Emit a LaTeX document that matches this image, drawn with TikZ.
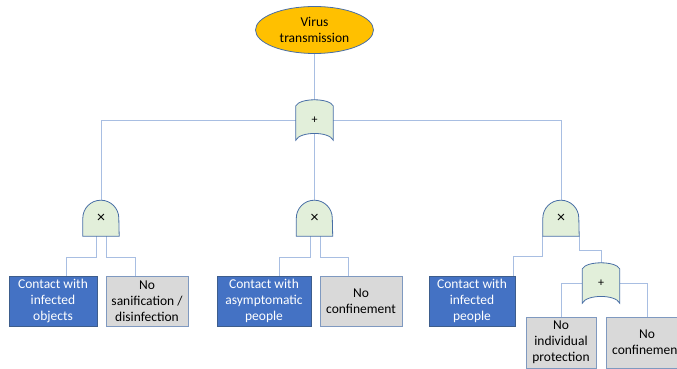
\documentclass[tikz,border=0pt]{standalone}
\usepackage{fontspec}
\setmainfont{Carlito}
\usetikzlibrary{shapes.geometric,backgrounds}

\definecolor{wireblue}{RGB}{168,190,226}
\definecolor{edgeblue}{RGB}{72,110,165}
\definecolor{gatefill}{RGB}{226,239,218}
\definecolor{eventorange}{RGB}{255,192,0}
\definecolor{causeblue}{RGB}{68,114,196}
\definecolor{causegrey}{RGB}{217,217,217}

\tikzset{
  wire/.style={draw=wireblue, line width=0.9pt},
  gateline/.style={draw=edgeblue, fill=gatefill, line width=0.8pt},
  gate/.style={inner sep=0pt, font=\fontsize{12}{12}\selectfont},
  andgate/.style={gate, minimum width=36pt, minimum height=36pt, font=\fontsize{16}{16}\selectfont},
  orgate/.style={gate, minimum width=37pt, minimum height=40pt},
  event/.style={ellipse, draw=edgeblue, fill=eventorange, line width=0.8pt,
    minimum width=118pt, minimum height=47pt, inner sep=0pt, align=center,
    font=\fontsize{13.5}{16}\selectfont},
  cause/.style={rectangle, line width=0.8pt, minimum height=50pt, inner sep=0pt,
    align=center, font=\fontsize{13.5}{16}\selectfont},
  bluecause/.style={cause, draw=edgeblue!85!black, fill=causeblue, text=white},
  greycause/.style={cause, draw=edgeblue!70, fill=causegrey, text=black},
}

\begin{document}
\begin{tikzpicture}[x=1pt, y=1pt]
  \useasboundingbox (0,0) rectangle (677,369);
  \clip (0,0) rectangle (677,369);

  % top event
  \node[event] (top) at (314.5,339) {Virus\\transmission};

  % gates
  \node[orgate] (or0) at (314.5,249) {+};
  \node[andgate] (and1) at (101,151) {×};
  \node[andgate] (and2) at (314.5,151) {×};
  \node[andgate] (and3) at (561,151) {×};
  \node[orgate] (or1) at (601,86) {+};

  % basic causes
  \node[bluecause, minimum width=88pt] (b1) at (53,68) {Contact with\\infected\\objects};
  \node[greycause, minimum width=82pt] (b2) at (147,68) {No\\sanification /\\disinfection};
  \node[bluecause, minimum width=94pt] (b3) at (264,68) {Contact with\\asymptomatic\\people};
  \node[greycause, minimum width=82pt] (b4) at (361,68) {No\\confinement};
  \node[bluecause, minimum width=86pt] (b5) at (472,68) {Contact with\\infected\\people};
  \node[greycause, minimum width=70pt, minimum height=51pt] (b6) at (561,26.5) {No\\individual\\protection};
  \node[greycause, minimum width=82pt, minimum height=51pt] (b7) at (647,26.5) {No\\confinement};

  \begin{scope}[on background layer]
    % connectors
    \draw[wire] (top.south) -- (and2.north);
    \draw[wire] (and1.north) |- (or0);
    \draw[wire] (and3.north) |- (or0);

    \draw[wire] ([xshift=-5pt]and1.south) -- ++(0,-21) -| ([xshift=13pt]b1.north);
    \draw[wire] ([xshift=5pt]and1.south) -- ++(0,-21) -| ([xshift=-12pt]b2.north);

    \draw[wire] ([xshift=-4.5pt]and2.south) -- ++(0,-21) -| ([xshift=15pt]b3.north);
    \draw[wire] ([xshift=5.5pt]and2.south) -- ++(0,-21) -| ([xshift=-13pt]b4.north);

    \draw[wire] (and3.south west) -- ++(0,-20) -| ([xshift=41pt]b5.north);
    \draw[wire] (and3.south east) -- ++(0,-14) -| (or1.north);

    \draw[wire] (or1) -| (b6.north);
    \draw[wire] (or1) -| (b7.north);

    % gate outlines
    \foreach \g in {and1,and2,and3}
      \draw[gateline] (\g.south west) -- ([yshift=18pt]\g.south west)
        arc[start angle=180, end angle=0, radius=18pt] -- (\g.south east) -- cycle;
    \foreach \g in {or0,or1}
      \draw[gateline] (\g.south west) -- ([yshift=-6pt]\g.north west)
        .. controls ([xshift=4pt,yshift=2pt]\g.north west) and ([xshift=-4pt,yshift=2pt]\g.north east)
        .. ([yshift=-6pt]\g.north east) -- (\g.south east)
        .. controls ([xshift=-4pt,yshift=9pt]\g.south east) and ([xshift=4pt,yshift=9pt]\g.south west)
        .. cycle;
  \end{scope}
\end{tikzpicture}
\end{document}
